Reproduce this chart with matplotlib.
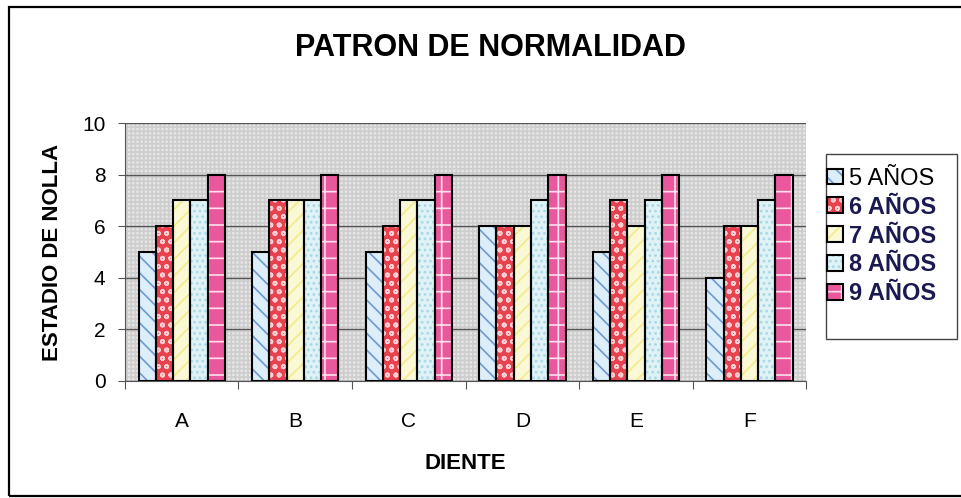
import numpy as np
import matplotlib.pyplot as plt
from matplotlib.patches import Rectangle
from matplotlib.legend_handler import HandlerTuple

plt.rcParams['font.family'] = ['Liberation Sans', 'DejaVu Sans']
plt.rcParams['hatch.linewidth'] = 1.2

dientes = ['A', 'B', 'C', 'D', 'E', 'F']
series = ['5 AÑOS', '6 AÑOS', '7 AÑOS', '8 AÑOS', '9 AÑOS']
anos5 = [5, 5, 5, 6, 5, 4]
anos6 = [6, 7, 6, 6, 7, 6]
anos7 = [7, 7, 7, 6, 6, 6]
anos8 = [7, 7, 7, 7, 7, 7]
anos9 = [8, 8, 8, 8, 8, 8]
valores = [anos5, anos6, anos7, anos8, anos9]

faces = ['#dceefa', '#e8424f', '#fbf8d6', '#dff3f7', '#e9589c']
hatch_cols = ['#6e9ad0', '#fbd0d4', '#f3ea8a', '#a9d8e6', '#fde0ee']
hatches = ['\\\\', 'oo', '//', '...', '-|']

fig = plt.figure(figsize=(9.61, 4.98), dpi=100)
# marco exterior y marco de la leyenda
fig.patches.append(Rectangle((0.009, 0.005), 1.2, 0.98, transform=fig.transFigure,
                             fill=False, ec='black', lw=1.6))
fig.patches.append(Rectangle((0.8595, 0.319), 0.136, 0.372, transform=fig.transFigure,
                             fill=False, ec='#444444', lw=1.0))

ax = fig.add_axes([0.130, 0.235, 0.709, 0.518])
ax.set_facecolor('#e6e6e6')
ax.patch.set_hatch('++++')
ax.patch.set_edgecolor('#cdcdcd')
ax.patch.set_linewidth(0)

x = np.arange(len(dientes))
w = 0.152
handles = []
for i, vals in enumerate(valores):
    b1 = ax.bar(x + (i - 2) * w, vals, width=w, color=faces[i], edgecolor=hatch_cols[i],
                hatch=hatches[i], lw=0, zorder=3)
    b2 = ax.bar(x + (i - 2) * w, vals, width=w, fill=False, edgecolor='black', lw=1.5, zorder=4)
    handles.append((b1, b2))

ax.set_xlim(-0.5, 5.5)
ax.set_ylim(0, 10)
ax.set_yticks([0, 2, 4, 6, 8, 10])
ax.set_xticks(np.arange(-0.5, 6, 1))
ax.set_xticklabels([])
ax.set_xticks(x, minor=True)
ax.set_xticklabels(dientes, minor=True, fontsize=15)
ax.tick_params(axis='x', which='minor', length=0, pad=22)
ax.tick_params(axis='x', which='major', length=6, color='#555555')
ax.tick_params(axis='y', labelsize=15, length=5, color='#555555', pad=9)
ax.grid(axis='y', color='#555555', lw=1, zorder=1)
for s in ['top', 'right']:
    ax.spines[s].set_visible(False)
ax.spines['left'].set_color('#555555')
ax.spines['bottom'].set_color('#555555')

ax.set_xlabel('DIENTE', fontsize=16, fontweight='bold', labelpad=16)
ax.set_ylabel('ESTADIO DE NOLLA', fontsize=16, fontweight='bold', labelpad=14)
fig.text(0.51, 0.903, 'PATRON DE NORMALIDAD', ha='center', va='center',
         fontsize=22, fontweight='bold')

leg = fig.legend(handles, series, loc='center left', bbox_to_anchor=(0.861, 0.525),
                 fontsize=17, frameon=False, handler_map={tuple: HandlerTuple(ndivide=1)},
                 handlelength=0.65, handleheight=0.65, handletextpad=0.25,
                 labelspacing=0.25, borderpad=0, borderaxespad=0)
for t in leg.get_texts()[1:]:
    t.set_color('#1a1a50')
    t.set_fontweight('bold')

fig.savefig('out.png', dpi=100)
